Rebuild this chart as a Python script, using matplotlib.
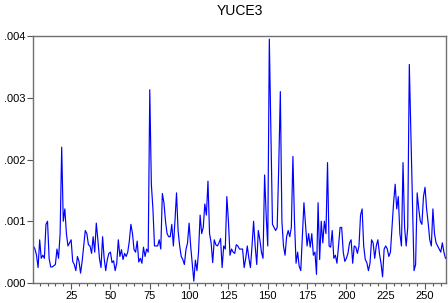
import numpy as np
import matplotlib
matplotlib.use('Agg')
import matplotlib.pyplot as plt
from matplotlib.ticker import MultipleLocator, FixedLocator

plt.rcParams['font.family'] = ['Liberation Sans', 'DejaVu Sans']

# YUCE3 series (obs 1..263)
yuce3_1 = [0.0006, 0.00055, 0.00045, 0.00025, 0.0007, 0.0004, 0.00045, 0.0004, 0.00095, 0.001,
           0.0004, 0.00026, 0.00026, 0.00028, 0.0003, 0.00055, 0.0004, 0.0008, 0.0022, 0.001,
           0.0012, 0.0008, 0.0006, 0.00065, 0.0007, 0.00035, 0.0003, 0.0002, 0.00043, 0.00035,
           0.00016, 0.00035, 0.0006, 0.00085, 0.0008, 0.00062, 0.0006, 0.00048, 0.00075, 0.0005,
           0.00097, 0.0007, 0.0004, 0.00025, 0.00075, 0.0004, 0.0002, 0.00038, 0.00048, 0.0005]
yuce3_2 = [0.00033, 0.00036, 0.0002, 0.00032, 0.0007, 0.00043, 0.00054, 0.00038, 0.00048, 0.00043,
           0.0005, 0.00068, 0.00095, 0.0008, 0.00054, 0.0005, 0.00068, 0.00034, 0.0004, 0.00032,
           0.00058, 0.00043, 0.00055, 0.0005, 0.00313, 0.0016, 0.0012, 0.0006, 0.0006, 0.0006,
           0.0007, 0.00055, 0.00145, 0.0013, 0.001, 0.0008, 0.00075, 0.00075, 0.00095, 0.0006,
           0.001, 0.00146, 0.00085, 0.0006, 0.00043, 0.00038, 0.0003, 0.00054, 0.00065, 0.00097]
yuce3_3 = [0.0006, 0.00032, 0.00003, 0.00037, 0.0002, 0.0005, 0.0011, 0.0008, 0.0009, 0.00128,
           0.0011, 0.00165, 0.0008, 0.00065, 0.00033, 0.0007, 0.00062, 0.0006, 0.00065, 0.00072,
           0.00025, 0.0006, 0.00055, 0.0014, 0.001, 0.00045, 0.00055, 0.0005, 0.00048, 0.00062,
           0.0006, 0.00055, 0.00055, 0.00055, 0.00025, 0.0004, 0.0006, 0.0004, 0.00025, 0.0006,
           0.001, 0.0006, 0.0003, 0.00085, 0.0007, 0.0005, 0.0004, 0.00175, 0.0011, 0.0006]
yuce3_4 = [0.00395, 0.0025, 0.00095, 0.0009, 0.00085, 0.0009, 0.0019, 0.0031, 0.001, 0.0006,
           0.00045, 0.00075, 0.00085, 0.00075, 0.0009, 0.00205, 0.001, 0.00032, 0.0005, 0.00027,
           0.0002, 0.00075, 0.0013, 0.00095, 0.0006, 0.0008, 0.00058, 0.0008, 0.00045, 0.0005,
           0.00014, 0.0013, 0.00038, 0.001, 0.00065, 0.001, 0.0008, 0.00195, 0.0006, 0.00058,
           0.00085, 0.0004, 0.00045, 0.00032, 0.0006, 0.0009, 0.0009, 0.0005, 0.00035, 0.0004]
yuce3_5 = [0.00048, 0.00065, 0.0007, 0.00032, 0.0006, 0.00058, 0.00048, 0.0006, 0.0011, 0.0012,
           0.0006, 0.00038, 0.00033, 0.0002, 0.00032, 0.0007, 0.00065, 0.0004, 0.0006, 0.0007,
           0.00048, 0.00032, 0.0001, 0.00055, 0.0006, 0.00055, 0.00043, 0.0005, 0.0009, 0.0013,
           0.0016, 0.0012, 0.0014, 0.0008, 0.0006, 0.00195, 0.0009, 0.0006, 0.0009, 0.00354,
           0.0024, 0.0012, 0.0002, 0.0003, 0.00146, 0.0012, 0.001, 0.00095, 0.0014, 0.00155]
yuce3_6 = [0.0012, 0.00097, 0.0007, 0.0006, 0.0012, 0.0008, 0.00065, 0.0006, 0.00055, 0.0005,
           0.00065, 0.0005, 0.0004]

yuce3 = np.array(yuce3_1 + yuce3_2 + yuce3_3 + yuce3_4 + yuce3_5 + yuce3_6)
obs = np.arange(1, len(yuce3) + 1)

y_ticks = [0.000, 0.001, 0.002, 0.003, 0.004]
y_labels = ['.000', '.001', '.002', '.003', '.004']
x_major = [25, 50, 75, 100, 125, 150, 175, 200, 225, 250]

fig = plt.figure(figsize=(4.48, 3.03), dpi=100)
ax = fig.add_axes([0.0745, 0.066, 0.922, 0.815])

ax.plot(obs, yuce3, color='#0000ff', linewidth=0.85)

ax.set_xlim(1, 263.6)
ax.set_ylim(0, 0.004)
ax.set_title('YUCE3', fontsize=10, pad=15)

ax.set_yticks(y_ticks)
ax.set_yticklabels(y_labels, fontsize=8)
ax.xaxis.set_major_locator(FixedLocator(x_major))
ax.set_xticklabels([str(v) for v in x_major], fontsize=8)
ax.xaxis.set_minor_locator(MultipleLocator(5))

ax.tick_params(axis='both', which='major', direction='out', length=4, width=0.8, color='#555555', pad=2)
ax.tick_params(axis='x', which='minor', direction='out', length=2.5, width=0.8, color='#555555')

for sp in ax.spines.values():
    sp.set_color('#707070')
    sp.set_linewidth(1.0)

fig.savefig('out.png', dpi=100)
